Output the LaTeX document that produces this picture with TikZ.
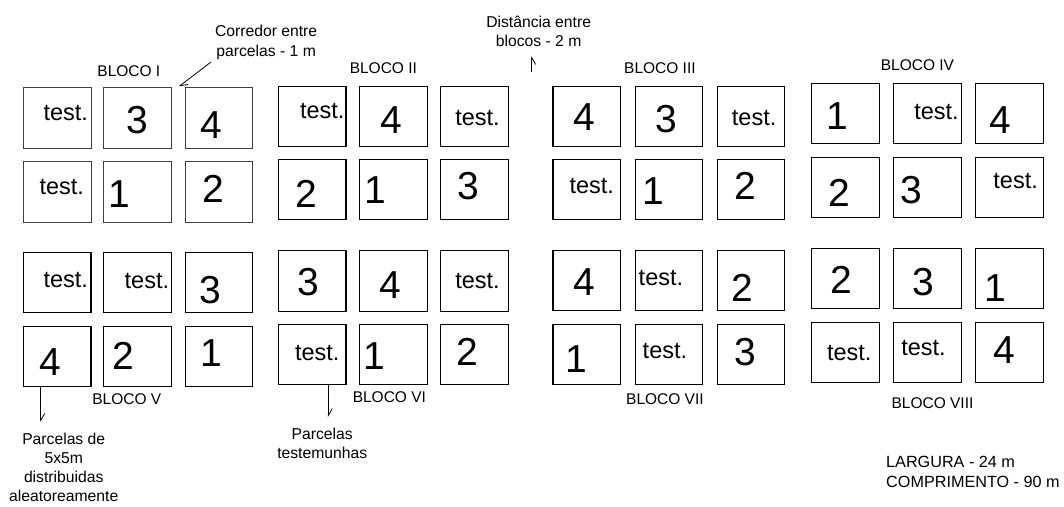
\documentclass[tikz,border=0pt]{standalone}
\usepackage{fontspec}
\setmainfont{Liberation Sans}
\usetikzlibrary{arrows.meta}
\tikzset{
  plot/.style={draw=black, line width=1.1pt, minimum width=67.5pt, minimum height=60.5pt, inner sep=0pt, fill=white},
  plotlight/.style={plot, draw=black!75, line width=0.9pt},
  digit/.style={inner sep=0pt, font=\fontsize{39}{39}\selectfont},
  testtxt/.style={inner sep=0pt, anchor=base, font=\fontsize{23.5}{23.5}\selectfont},
  lbl/.style={inner sep=0pt, font=\fontsize{15.5}{19}\selectfont},
  note/.style={inner sep=0pt, align=center, font=\fontsize{15.7}{19.2}\selectfont},
  pointer/.style={draw=black, line width=0.8pt, -{Straight Barb[harpoon, angle=60:8pt, line width=0.8pt]}},
  pointerswap/.style={draw=black, line width=0.8pt, -{Straight Barb[harpoon, swap, angle=60:8pt, line width=0.8pt]}}
}
\begin{document}
\begin{tikzpicture}[x=1pt, y=-1pt]
\useasboundingbox (0,0) rectangle (1064,506);
\fill[white] (0,0) rectangle (1064,506);

\begin{scope}[x=1.002pt, xshift=0.6pt]
% plots
\foreach \bn/\ya/\yb/\xa/\xb/\xc/\st in {
  I/118/192/56.5/136.5/218/plotlight,
  II/116.5/189.5/311/392/473/plot,
  III/116.5/189.5/585/667/749/plot,
  IV/113.5/187.5/843/925/1007/plot,
  V/282.5/356.5/56.5/136.5/218/plot,
  VI/281/354.5/311/392/473/plot,
  VII/280.5/354.5/585/667/749/plot,
  VIII/278.5/352.5/843/925/1007/plot}{
  \foreach \r/\yy in {1/\ya, 2/\yb}{
    \foreach \c/\xx in {1/\xa, 2/\xb, 3/\xc}{
      \node[\st] (b\bn-\r\c) at (\xx,\yy) {};
    }
  }
}

% digits
\foreach \n/\t/\x/\y in {
  d1/3/136/120, d2/4/210/125, d3/1/119/194, d4/2/212/189,
  d5/4/390/120, d6/2/305/194, d7/1/374/190, d8/3/467/186,
  d9/4/583/117, d10/3/664/119, d11/1/651/191, d12/2/743/186,
  d13/1/835/116, d14/4/998/120, d15/2/837/193, d16/3/909/190,
  d17/3/209/290, d18/4/50/362, d19/2/122/356, d20/1/210/353,
  d21/3/307/282, d22/4/389/285, d23/1/373/356, d24/2/466/352,
  d25/4/583/282, d26/2/740/288, d27/1/575/359, d28/3/743/352,
  d29/2/839/280, d30/3/921/282, d31/1/993/288, d32/4/1002/350}{
  \node[digit] (\n) at (\x,\y) {\t};
}

% test.
\foreach \n/\x/\y in {
  t1/65/120, t2/61/194,
  t3/321/118, t4/476/125,
  t5/752/125, t6/590/193,
  t7/934/119, t8/1013/188,
  t9/65/287, t10/146/288,
  t11/476/288, t12/316/360,
  t13/659/285, t14/663/358,
  t15/847/360, t16/921/355}{
  \node[testtxt] (\n) at (\x,\y) {test.};
}

% block labels
\node[lbl] (lI) at (128,71) {BLOCO I};
\node[lbl] (lII) at (382,68) {BLOCO II};
\node[lbl] (lIII) at (658,68) {BLOCO III};
\node[lbl] (lIV) at (915,65) {BLOCO IV};
\node[lbl] (lV) at (126,399) {BLOCO V};
\node[lbl] (lVI) at (388,397) {BLOCO VI};
\node[lbl] (lVII) at (663,399) {BLOCO VII};
\node[lbl] (lVIII) at (930,403) {BLOCO VIII};

% notes
\node[note] (ncorr) at (265,42.5) {Corredor entre\\parcelas - 1 m};
\node[note] (ndist) at (537,31) {Distância entre\\blocos - 2 m};
\node[note] (nparc) at (63,467.5) {Parcelas de\\5x5m\\distribuidas\\aleatoreamente};
\node[note] (ntest) at (321,443.5) {Parcelas\\testemunhas};

% pointers
\coordinate (corrtail) at (210,62);
\coordinate (corrtip) at (178,86.5);
\coordinate (disttail) at (530,72);
\coordinate (disttip) at (530,56);
\coordinate (parctip) at (40,422);
\coordinate (testtip) at (327,417);
\draw[pointer] (corrtail) -- (corrtip);
\draw[pointerswap] (disttail) -- (disttip);
\draw[pointer] (bV-21.south -| parctip) -- (parctip);
\draw[pointer] (bVI-21.south -| testtip) -- (testtip);
\end{scope}

\node[note, align=left, anchor=west, font=\fontsize{16.2}{20}\selectfont] (ndim) at (886,472) {LARGURA - 24 m\\COMPRIMENTO - 90 m};
\end{tikzpicture}
\end{document}
